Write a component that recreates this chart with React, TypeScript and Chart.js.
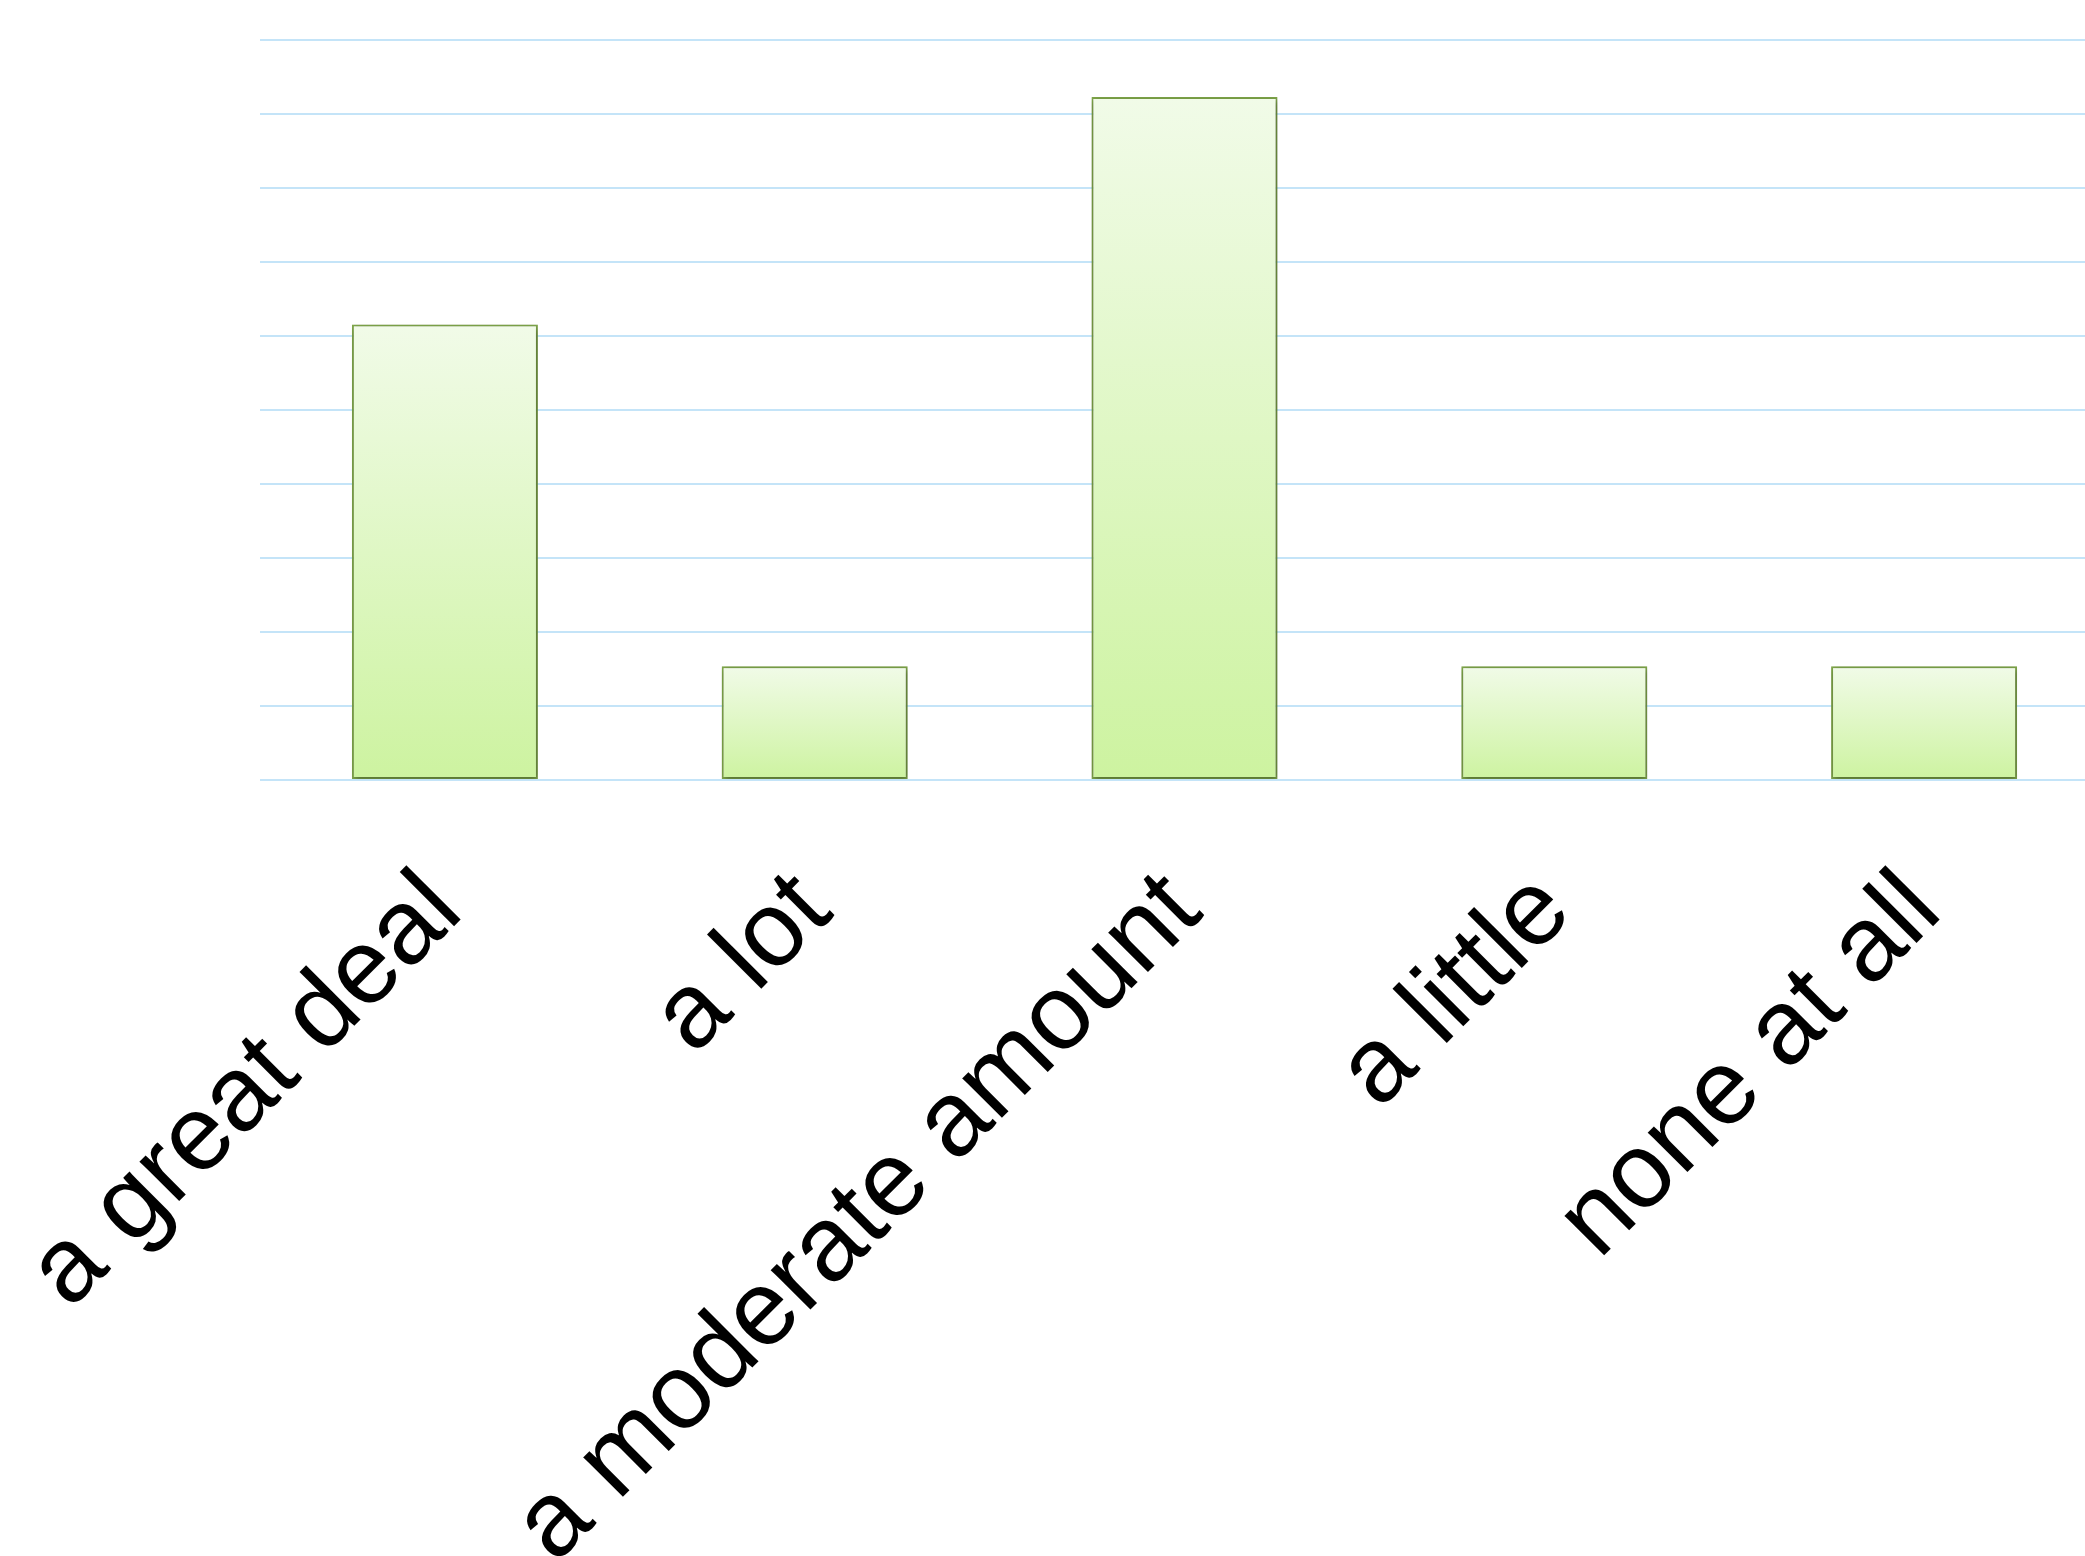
import React, { useEffect, useRef } from "react";
import { Chart, registerables } from "chart.js";

Chart.register(...registerables);

const categories = ["a great deal", "a lot", "a moderate amount", "a little", "none at all"];
const values = [30.77, 7.69, 46.15, 7.69, 7.69];
const yMin = 0;
const yMax = 50;
const yStep = 5;

const shadowPlugin = {
  id: "barShadow",
  beforeDatasetsDraw(chart: any) {
    const ctx = chart.ctx;
    ctx.save();
    ctx.shadowColor = "rgba(0,0,0,0.4)";
    ctx.shadowBlur = 6;
    ctx.shadowOffsetX = 1;
    ctx.shadowOffsetY = 2;
  },
  afterDatasetsDraw(chart: any) {
    chart.ctx.restore();
  },
};

export default function App() {
  const ref = useRef<HTMLCanvasElement | null>(null);
  useEffect(() => {
    if (!ref.current) return;
    const chart = new Chart(ref.current, {
      type: "bar",
      data: {
        labels: categories,
        datasets: [
          {
            data: values,
            backgroundColor: (c: any) => {
              const ch = c.chart;
              const ys = ch.scales && ch.scales.y;
              if (!ys || !ch.chartArea) return "#dcf5c0";
              const v = c.raw as number;
              const top = ys.getPixelForValue(v);
              const bottom = ys.getPixelForValue(0);
              if (!isFinite(top) || !isFinite(bottom) || top === bottom) return "#dcf5c0";
              const g = ch.ctx.createLinearGradient(0, top, 0, bottom);
              g.addColorStop(0, "#f1fbe8");
              g.addColorStop(1, "#cdf3a0");
              return g;
            },
            borderColor: "#80a84a",
            borderWidth: 2,
            borderSkipped: false,
            categoryPercentage: 0.503,
            barPercentage: 1,
          },
        ],
      },
      options: {
        responsive: false,
        animation: false,
        layout: { padding: { left: 260, top: 40, right: 1, bottom: 0 } },
        plugins: { legend: { display: false }, tooltip: { enabled: false } },
        scales: {
          x: {
            offset: true,
            grid: { display: false, drawTicks: false },
            border: { display: false },
            ticks: {
              color: "#000000",
              font: { family: "'Liberation Sans', Arial, sans-serif", size: 106 },
              minRotation: 45,
              maxRotation: 45,
              padding: 69,
              autoSkip: false,
            },
            afterFit: (s: any) => {
              s.height = 776;
              s.paddingLeft = 0;
              s.paddingRight = 0;
            },
          },
          y: {
            min: yMin,
            max: yMax,
            ticks: { display: false, stepSize: yStep },
            grid: { color: "#c4e4f8", lineWidth: 2, drawTicks: false },
            border: { display: false },
            afterFit: (s: any) => {
              s.width = 0;
              s.paddingTop = 0;
              s.paddingBottom = 0;
            },
          },
        },
      },
      plugins: [shadowPlugin],
    });
    return () => chart.destroy();
  }, []);
  return (
    <div style={{ position: "absolute", left: 0, top: 0, width: 2085, height: 1556, overflow: "hidden", background: "#ffffff" }}>
      <canvas ref={ref} width={2110} height={1556} style={{ display: "block", width: 2110, height: 1556 }} />
    </div>
  );
}
